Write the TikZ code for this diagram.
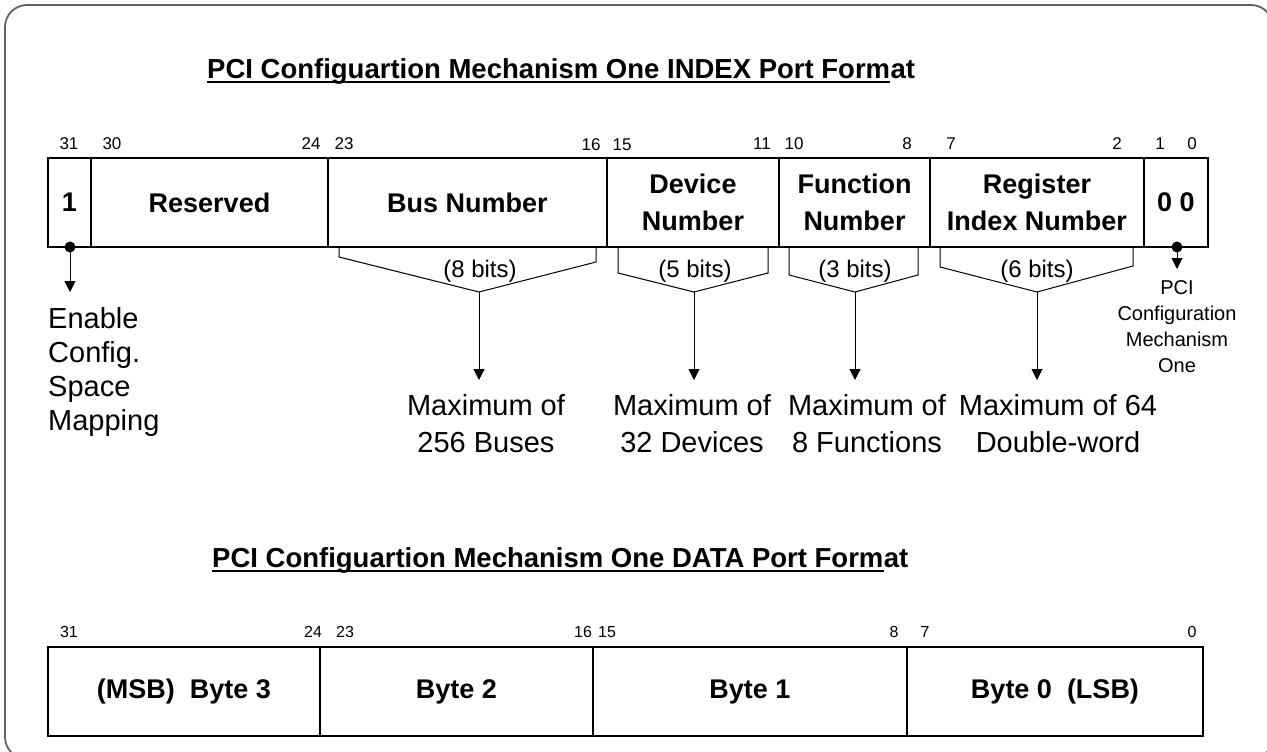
\documentclass[tikz,border=0pt]{standalone}
\usepackage{fontspec}
\setmainfont{Liberation Sans}
\usetikzlibrary{arrows.meta}
\begin{document}
\begin{tikzpicture}[x=1pt,y=-1pt,
  bitnum/.style={font=\fontsize{17}{20}\selectfont, anchor=base, inner sep=0pt},
  bitnumb/.style={font=\fontsize{16}{20}\selectfont, anchor=base, inner sep=0pt},
  field/.style={draw=black, line width=1.1pt, font=\fontsize{27}{37}\selectfont\bfseries, align=center, inner sep=0pt, minimum height=89pt},
  bfield/.style={field, text height=19.7pt, text depth=5.7pt},
  bitsz/.style={font=\fontsize{24}{28}\selectfont, anchor=base, inner sep=0pt},
  note/.style={font=\fontsize{29}{37}\selectfont, align=center, anchor=base, inner sep=0pt},
  enote/.style={font=\fontsize{29}{34}\selectfont, align=left, anchor=base west, inner sep=0pt},
  snote/.style={font=\fontsize{20}{26}\selectfont, align=center, anchor=base, inner sep=0pt},
  ttl/.style={font=\fontsize{27.5}{33}\selectfont\bfseries, anchor=base west, inner sep=0pt},
  uline/.style={line width=2.6pt},
  brk/.style={line width=1pt},
  arr/.style={line width=1pt, -{Triangle[width=11pt,length=11pt]}},
  dotc/.style={circle, fill=black, inner sep=0pt, minimum size=11pt}
]
\useasboundingbox (0,0) rectangle (1267,752);
\clip (0,0) rectangle (1267,752);
\draw[draw=black!62, line width=1.8pt, rounded corners=22pt] (5,5) rectangle (1273,759);

% ---------- Title 1
\node[ttl] (t1a) at (207,78) {PCI Configuartion Mechanism One INDEX Port Form};
\node[ttl] (t1b) at (t1a.base east) {at};
\draw[uline] ([yshift=-4pt]t1a.base west) -- ([yshift=-4pt]t1a.base east);

% ---------- bit numbers (top)
\node[bitnum] (b31) at (69,149) {31};
\node[bitnum] (b30) at (112,149) {30};
\node[bitnum] (b24) at (311,149) {24};
\node[bitnum] (b23) at (344,149) {23};
\node[bitnum] (b16) at (591,150) {16};
\node[bitnum] (b15) at (622,150) {15};
\node[bitnum] (b11) at (762,149) {11};
\node[bitnum] (b10) at (794,149) {10};
\node[bitnum] (b8) at (907,149) {8};
\node[bitnum] (b7) at (951,149) {7};
\node[bitnum] (b2) at (1117,149) {2};
\node[bitnum] (b1) at (1160,149) {1};
\node[bitnum] (b0) at (1192,149) {0};

% ---------- fields (top)
\node[field, minimum width=43pt] (en) at (69.5,202.5) {1};
\node[field, minimum width=237pt] (res) at (209.5,202.5) {Reserved};
\node[field, minimum width=279pt] (bus) at (467.5,202.5) {Bus Number};
\node[field, minimum width=172pt] (dev) at (693,202.5) {Device\\Number};
\node[field, minimum width=151pt] (fun) at (854.5,202.5) {Function\\Number};
\node[field, minimum width=214pt] (reg) at (1037,202.5) {Register\\Index Number};
\node[field, minimum width=64pt] (zz) at (1176,202.5) {0 0};

% ---------- brackets
\coordinate (busA) at (479,292);
\coordinate (devA) at (694,292);
\coordinate (funA) at (855,292);
\coordinate (regA) at (1037,292);
\draw[brk] (339,247) -- (339,257) -- (busA) -- (596,262) -- (596,247);
\draw[brk] (618,247) -- (618,273) -- (devA) -- (768,273) -- (768,247);
\draw[brk] (789,247) -- (789,275) -- (funA) -- (918,275) -- (918,247);
\draw[brk] (940,247) -- (940,267) -- (regA) -- (1133,266) -- (1133,247);
\node[bitsz] (s8) at (480,277) {(8 bits)};
\node[bitsz] (s5) at (695,277) {(5 bits)};
\node[bitsz] (s3) at (855,277) {(3 bits)};
\node[bitsz] (s6) at (1037,277) {(6 bits)};

\coordinate (busT) at (479,380);
\coordinate (devT) at (694,380);
\coordinate (funT) at (855,380);
\coordinate (regT) at (1037,380);
\draw[arr] (busA) -- (busT);
\draw[arr] (devA) -- (devT);
\draw[arr] (funA) -- (funT);
\draw[arr] (regA) -- (regT);

% (base anchor of a multi-line node = last line's baseline)
\node[note] (mbus) at (486,452) {Maximum of\\256 Buses};
\node[note] (mdev) at (692,452) {Maximum of\\32 Devices};
\node[note] (mfun) at (867,452) {Maximum of\\8 Functions};
\node[note] (mreg) at (1058,452) {Maximum of 64\\Double-word};

% ---------- enable bit
\node[dotc] (d1) at (70,247) {};
\coordinate (d1T) at (70,292);
\draw[arr] (d1.center) -- (d1T);
\node[enote] (entext) at (48,430) {Enable\\Config.\\Space\\Mapping};

% ---------- bits 1:0
\node[dotc] (d0) at (1177,247) {};
\coordinate (d0T) at (1177,269);
\draw[arr] (d0.center) -- (d0T);
\node[snote] (pcitext) at (1177,372) {PCI\\Configuration\\Mechanism\\One};

% ---------- Title 2
\node[ttl] (t2a) at (212,567) {PCI Configuartion Mechanism One DATA Port Form};
\node[ttl] (t2b) at (t2a.base east) {at};
\draw[uline] ([yshift=-4pt]t2a.base west) -- ([yshift=-4pt]t2a.base east);

% ---------- bit numbers (bottom)
\node[bitnumb] (c31) at (69,637) {31};
\node[bitnumb] (c24) at (313,637) {24};
\node[bitnumb] (c23) at (345,637) {23};
\node[bitnumb] (c16) at (583,637) {16};
\node[bitnumb] (c15) at (607,637) {15};
\node[bitnumb] (c8) at (894,637) {8};
\node[bitnumb] (c7) at (925,637) {7};
\node[bitnumb] (c0) at (1192,637) {0};

% ---------- fields (bottom)
\node[bfield, minimum width=272pt] (by3) at (184,691.5) {(MSB)\ \ Byte 3};
\node[bfield, minimum width=273pt] (by2) at (456.5,691.5) {Byte 2};
\node[bfield, minimum width=314pt] (by1) at (750,691.5) {Byte 1};
\node[bfield, minimum width=296pt] (by0) at (1055,691.5) {Byte 0\ \ (LSB)};
\end{tikzpicture}
\end{document}
